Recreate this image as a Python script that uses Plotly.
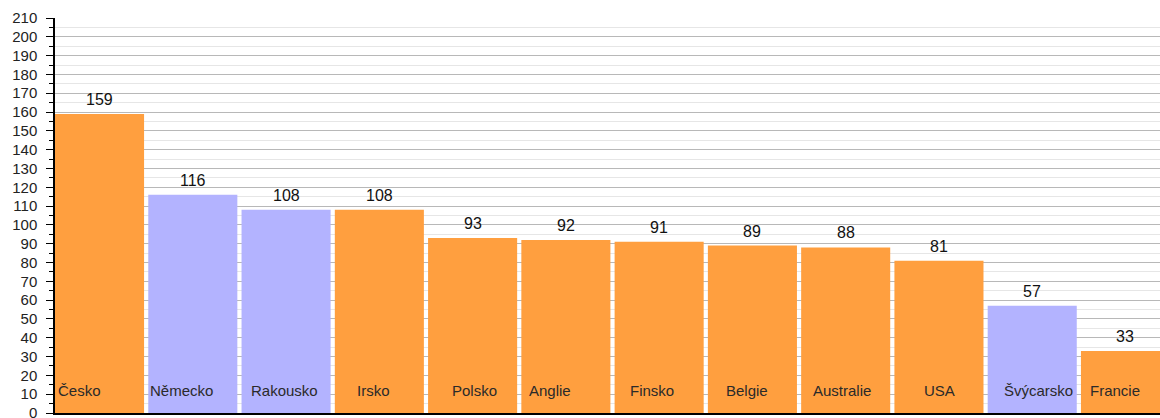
import plotly.graph_objects as go

categories = ["Česko", "Německo", "Rakousko", "Irsko", "Polsko", "Anglie", "Finsko",
              "Belgie", "Australie", "USA", "Švýcarsko", "Francie"]
values = [159, 116, 108, 108, 93, 92, 91, 89, 88, 81, 57, 33]
groups = ["a", "b", "b", "a", "a", "a", "a", "a", "a", "a", "b", "a"]
y_ticks = list(range(0, 211, 10))

# styling: horizontal pixel shift of each in-bar category label
label_shift_px = [-20, -11, -2, -6, 2, -16, -7, -5, -4, 1, 6, -10]

color_map = {"a": "#FF9F3F", "b": "#B3B3FF"}
colors = [color_map[g] for g in groups]
FONT = "Liberation Sans, Arial, sans-serif"

fig = go.Figure()
fig.add_trace(go.Bar(
    x=categories, y=values, marker=dict(color=colors, line=dict(width=0)),
    hoverinfo="x+y",
))

for c, v, dx in zip(categories, values, label_shift_px):
    fig.add_annotation(x=c, y=v, text=str(v), showarrow=False, yanchor="bottom", yshift=4,
                       font=dict(size=16, color="#111111", family=FONT))
    fig.add_annotation(x=c, y=12, text=c, showarrow=False, yanchor="middle", xshift=dx,
                       font=dict(size=15, color="#2a2a2a", family=FONT))

fig.update_layout(
    width=1160, height=418,
    margin=dict(l=55, r=0, t=18, b=5),
    paper_bgcolor="white", plot_bgcolor="white",
    bargap=0.045, showlegend=False,
    font=dict(family=FONT, size=14, color="#222222"),
)
fig.update_xaxes(range=[-0.4775, 11.37], showticklabels=False, showline=True, automargin=False,
                 linecolor="#000000", linewidth=1.5, ticks="", showgrid=False, zeroline=False)
fig.update_yaxes(range=[0, 210], tickvals=y_ticks, ticktext=[str(t) for t in y_ticks],
                 automargin=False,
                 showline=True, linecolor="#000000", linewidth=1.5,
                 ticks="outside", ticklen=7, tickcolor="#000000",
                 ticklabelstandoff=6, ticklabeloverflow="allow",
                 showgrid=True, gridcolor="#b8b8b8", gridwidth=1, zeroline=False,
                 tickfont=dict(size=15, color="#222222"),
                 minor=dict(dtick=5, showgrid=True, gridcolor="#e6e6e6", ticks="outside",
                            ticklen=4, tickcolor="#000000"))

fig.write_html("out.html")
